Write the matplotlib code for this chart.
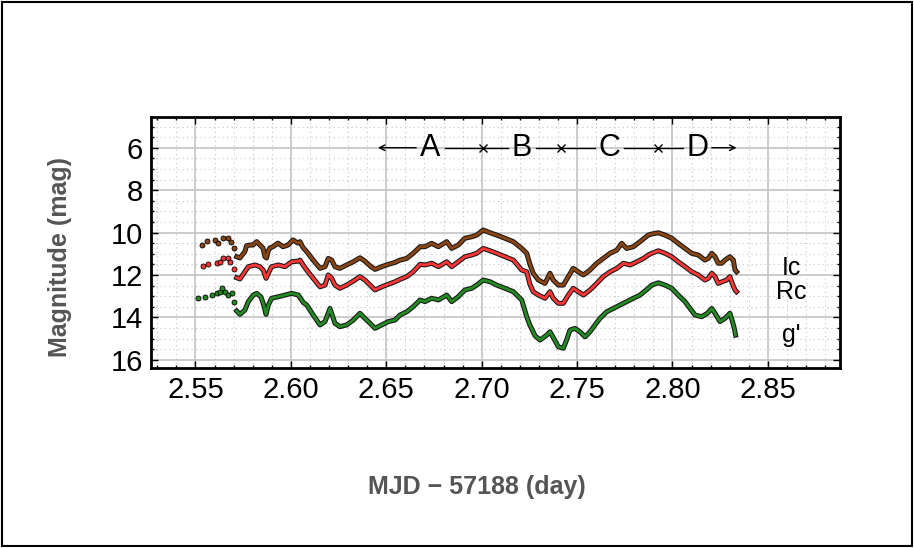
import numpy as np
import matplotlib
matplotlib.use("Agg")
import matplotlib.pyplot as plt
import matplotlib.patheffects as pe
from matplotlib.ticker import MultipleLocator, FormatStrFormatter
from matplotlib.patches import Rectangle

plt.rcParams["font.family"] = ["Liberation Sans", "DejaVu Sans"]

# time (MJD - 57188) and magnitudes
t_ic = [2.5532, 2.5559, 2.5602, 2.5618, 2.5644, 2.5670, 2.5686, 2.5702, 2.5716, 2.5733,
        2.5759, 2.5768, 2.5786, 2.5801, 2.5821, 2.5838, 2.5854, 2.5864, 2.5873, 2.5880,
        2.5890, 2.5906, 2.5932, 2.5959, 2.5985, 2.6011, 2.6037, 2.6048, 2.6063, 2.6083,
        2.6117, 2.6153, 2.6179, 2.6196, 2.6214, 2.6231, 2.6257, 2.6292, 2.6327, 2.6362,
        2.6388, 2.6415, 2.6441, 2.6476, 2.6511, 2.6546, 2.6572, 2.6607, 2.6641, 2.6677,
        2.6703, 2.6738, 2.6773, 2.6817, 2.6843, 2.6877, 2.6912, 2.6948, 2.6974, 2.7008,
        2.7044, 2.7079, 2.7122, 2.7166, 2.7210, 2.7236, 2.7253, 2.7270, 2.7297, 2.7332,
        2.7358, 2.7375, 2.7402, 2.7428, 2.7454, 2.7480, 2.7506, 2.7533, 2.7568, 2.7603,
        2.7637, 2.7673, 2.7708, 2.7734, 2.7760, 2.7795, 2.7830, 2.7873, 2.7891, 2.7926,
        2.7961, 2.7996, 2.8030, 2.8066, 2.8101, 2.8135, 2.8170, 2.8188, 2.8206, 2.8223,
        2.8240, 2.8258, 2.8275, 2.8301, 2.8319, 2.8328, 2.8336]
m_ic = [10.59, 10.40, 10.35, 10.50, 10.26, 10.25, 10.43, 10.73, 11.14, 11.20,
        10.90, 10.62, 10.59, 10.59, 10.43, 10.59, 10.73, 11.14, 11.20, 10.90,
        10.73, 10.67, 10.50, 10.67, 10.59, 10.35, 10.50, 10.43, 10.70, 10.90,
        11.30, 11.69, 11.61, 11.22, 11.30, 11.61, 11.69, 11.53, 11.38, 11.19,
        11.35, 11.57, 11.74, 11.61, 11.50, 11.41, 11.30, 11.22, 10.98, 10.67,
        10.67, 10.51, 10.67, 10.43, 10.75, 10.59, 10.27, 10.20, 10.12, 9.88,
        10.01, 10.12, 10.27, 10.43, 10.75, 10.98, 11.50, 11.92, 12.24, 12.40,
        11.92, 12.24, 12.48, 12.48, 12.08, 11.69, 11.85, 12.00, 11.77, 11.45,
        11.22, 10.98, 10.83, 10.51, 10.75, 10.67, 10.43, 10.12, 10.07, 10.01,
        10.12, 10.27, 10.51, 10.75, 10.98, 11.06, 11.30, 11.22, 10.98, 11.14,
        11.45, 11.45, 11.30, 11.14, 11.30, 11.77, 11.85]

t_rc = [2.5541, 2.5567, 2.5611, 2.5628, 2.5644, 2.5672, 2.5681, 2.5703, 2.5716, 2.5733,
        2.5759, 2.5777, 2.5812, 2.5838, 2.5855, 2.5870, 2.5882, 2.5899, 2.5934, 2.5969,
        2.6004, 2.6039, 2.6048, 2.6065, 2.6083, 2.6117, 2.6153, 2.6179, 2.6196, 2.6214,
        2.6231, 2.6257, 2.6292, 2.6327, 2.6362, 2.6388, 2.6415, 2.6441, 2.6476, 2.6511,
        2.6546, 2.6572, 2.6607, 2.6641, 2.6677, 2.6703, 2.6738, 2.6773, 2.6817, 2.6843,
        2.6877, 2.6912, 2.6948, 2.6974, 2.7008, 2.7044, 2.7079, 2.7122, 2.7166, 2.7210,
        2.7236, 2.7253, 2.7270, 2.7297, 2.7332, 2.7358, 2.7375, 2.7402, 2.7428, 2.7454,
        2.7480, 2.7506, 2.7533, 2.7568, 2.7603, 2.7637, 2.7673, 2.7708, 2.7743, 2.7778,
        2.7813, 2.7848, 2.7873, 2.7891, 2.7926, 2.7961, 2.7996, 2.8030, 2.8066, 2.8101,
        2.8135, 2.8170, 2.8188, 2.8206, 2.8223, 2.8240, 2.8260, 2.8284, 2.8301, 2.8313,
        2.8328, 2.8336]
m_rc = [11.57, 11.50, 11.45, 11.38, 11.20, 11.20, 11.38, 11.72, 12.13, 12.19,
        11.85, 11.61, 11.53, 11.61, 11.77, 12.16, 11.92, 11.61, 11.53, 11.61,
        11.38, 11.35, 11.30, 11.55, 11.77, 12.16, 12.56, 12.48, 12.00, 12.16,
        12.48, 12.63, 12.48, 12.29, 12.08, 12.24, 12.48, 12.71, 12.56, 12.44,
        12.32, 12.21, 12.08, 11.85, 11.50, 11.53, 11.45, 11.61, 11.38, 11.61,
        11.38, 11.14, 11.06, 10.98, 10.75, 10.86, 10.98, 11.14, 11.30, 11.77,
        11.85, 12.45, 12.79, 12.95, 13.10, 12.79, 13.10, 13.34, 13.34, 12.95,
        12.63, 12.79, 12.95, 12.71, 12.40, 12.08, 11.85, 11.69, 11.45, 11.53,
        11.38, 11.22, 11.06, 10.98, 10.86, 10.98, 11.14, 11.38, 11.61, 11.85,
        12.00, 12.24, 12.16, 11.92, 12.08, 12.40, 12.32, 12.24, 12.08, 12.40,
        12.71, 12.79]

t_g = [2.5515, 2.5550, 2.5585, 2.5611, 2.5628, 2.5640, 2.5655, 2.5672, 2.5690, 2.5703,
       2.5716, 2.5733, 2.5759, 2.5777, 2.5803, 2.5821, 2.5843, 2.5855, 2.5870, 2.5882,
       2.5899, 2.5934, 2.5969, 2.6004, 2.6039, 2.6065, 2.6083, 2.6117, 2.6153, 2.6179,
       2.6205, 2.6231, 2.6257, 2.6292, 2.6327, 2.6362, 2.6388, 2.6415, 2.6441, 2.6476,
       2.6511, 2.6546, 2.6572, 2.6607, 2.6641, 2.6677, 2.6703, 2.6738, 2.6773, 2.6817,
       2.6843, 2.6877, 2.6912, 2.6948, 2.6974, 2.7008, 2.7044, 2.7079, 2.7122, 2.7166,
       2.7210, 2.7236, 2.7253, 2.7280, 2.7306, 2.7341, 2.7358, 2.7375, 2.7402, 2.7428,
       2.7445, 2.7463, 2.7489, 2.7515, 2.7542, 2.7568, 2.7594, 2.7620, 2.7655, 2.7690,
       2.7725, 2.7760, 2.7795, 2.7830, 2.7873, 2.7891, 2.7926, 2.7961, 2.7996, 2.8030,
       2.8066, 2.8092, 2.8118, 2.8153, 2.8183, 2.8206, 2.8223, 2.8249, 2.8275, 2.8301,
       2.8313, 2.8324, 2.8331]
m_g = [13.08, 13.03, 12.95, 12.87, 12.79, 12.63, 12.79, 12.95, 12.87, 13.29,
       13.70, 13.86, 13.66, 13.26, 12.95, 12.87, 13.03, 13.34, 13.86, 13.42,
       13.10, 13.03, 12.95, 12.87, 12.95, 13.30, 13.42, 13.89, 14.36, 14.20,
       13.58, 14.28, 14.44, 14.36, 14.13, 13.81, 14.05, 14.28, 14.52, 14.36,
       14.20, 14.13, 13.89, 13.74, 13.50, 13.18, 13.26, 13.10, 13.18, 12.95,
       13.26, 13.03, 12.71, 12.63, 12.48, 12.24, 12.32, 12.48, 12.63, 12.79,
       13.18, 13.97, 14.37, 14.87, 15.07, 14.84, 14.68, 14.95, 15.39, 15.46,
       15.07, 14.60, 14.52, 14.68, 14.92, 14.68, 14.36, 14.05, 13.74, 13.58,
       13.42, 13.26, 13.10, 12.95, 12.63, 12.48, 12.37, 12.48, 12.63, 12.95,
       13.26, 13.58, 13.89, 13.97, 13.81, 13.58, 13.81, 14.20, 14.05, 13.81,
       14.15, 14.52, 14.84]

# phase boundaries and names
phase_edges = [2.6456, 2.7008, 2.7416, 2.7926, 2.8336]
phase_names = ["A", "B", "C", "D"]

band_names = ["Ic", "Rc", "g'"]
band_colors = ["#8b4513", "#ff3535", "#228b22"]
band_label_y = [11.65, 12.8, 14.85]

fig = plt.figure(figsize=(9.14, 5.48), dpi=100)
ax = fig.add_axes([151 / 914, 1 - 368 / 548, 689 / 914, 251 / 548])

for t, m, c in zip([t_ic, t_rc, t_g], [m_ic, m_rc, m_g], band_colors):
    t = np.array(t)
    m = np.array(m)
    early = t < 2.571
    ax.plot(t[early], m[early], "o", ms=3.6, mfc=c, mec="k", mew=0.6, zorder=3)
    ax.plot(t[~early], m[~early], "-", color=c, lw=2.0, zorder=3,
            solid_joinstyle="round",
            path_effects=[pe.Stroke(linewidth=3.6, foreground="#1a1a1a"), pe.Normal()])

for name, y, c in zip(band_names, band_label_y, band_colors):
    ax.text(2.8625, y, name, fontsize=18, ha="center", va="center", color="black")

# phase annotation
ya = 6.0
half_gap = 0.0075
for i, name in enumerate(phase_names):
    mid = (phase_edges[i] + phase_edges[i + 1]) / 2
    ax.text(mid, ya, name, fontsize=22, ha="center", va="center", color="black", zorder=5)
    left = (phase_edges[i], mid - half_gap)
    right = (mid + half_gap, phase_edges[i + 1])
    if i == 0:
        ax.annotate("", xy=(left[0], ya), xytext=(left[1], ya),
                    arrowprops=dict(arrowstyle="->", lw=1, color="k", shrinkA=0, shrinkB=0,
                                    mutation_scale=10))
    else:
        ax.plot(left, [ya, ya], color="k", lw=1, zorder=5)
    if i == len(phase_names) - 1:
        ax.annotate("", xy=(right[1], ya), xytext=(right[0], ya),
                    arrowprops=dict(arrowstyle="->", lw=1, color="k", shrinkA=0, shrinkB=0,
                                    mutation_scale=10))
    else:
        ax.plot(right, [ya, ya], color="k", lw=1, zorder=5)
ax.plot(phase_edges[1:-1], [ya] * 3, "x", color="k", ms=6, mew=1, zorder=5)

ax.set_xlim(2.5267, 2.8878)
ax.set_ylim(16.39, 4.55)
ax.xaxis.set_major_locator(MultipleLocator(0.05))
ax.xaxis.set_minor_locator(MultipleLocator(0.01))
ax.yaxis.set_major_locator(MultipleLocator(2))
ax.yaxis.set_minor_locator(MultipleLocator(0.5))
ax.xaxis.set_major_formatter(FormatStrFormatter("%.2f"))
ax.yaxis.set_major_formatter(FormatStrFormatter("%d"))

ax.grid(which="major", color="#c8c8c8", lw=1.3, zorder=0)
ax.grid(which="minor", color="#c4c4c4", lw=0.8, linestyle=(0, (1, 3)), zorder=0)
ax.set_axisbelow(True)
ax.tick_params(which="both", direction="in", top=True, right=True, width=1, color="k")
ax.tick_params(which="major", length=5, labelsize=21, pad=6)
ax.tick_params(which="minor", length=2.5)
for s in ax.spines.values():
    s.set_linewidth(2)

fig.text(60 / 914, 1 - 257 / 548, "Magnitude (mag)", rotation=90, ha="center", va="center",
         fontsize=18, color="#555555", fontweight="bold")
fig.text(477 / 914, 1 - 487 / 548, "MJD \u2212 57188 (day)", ha="center", va="center",
         fontsize=18, color="#555555", fontweight="bold")

fig.patches.append(Rectangle((0.002, 0.003), 0.996, 0.994, transform=fig.transFigure,
                             fill=False, edgecolor="k", lw=1.5))

fig.savefig("out.png", dpi=100)
